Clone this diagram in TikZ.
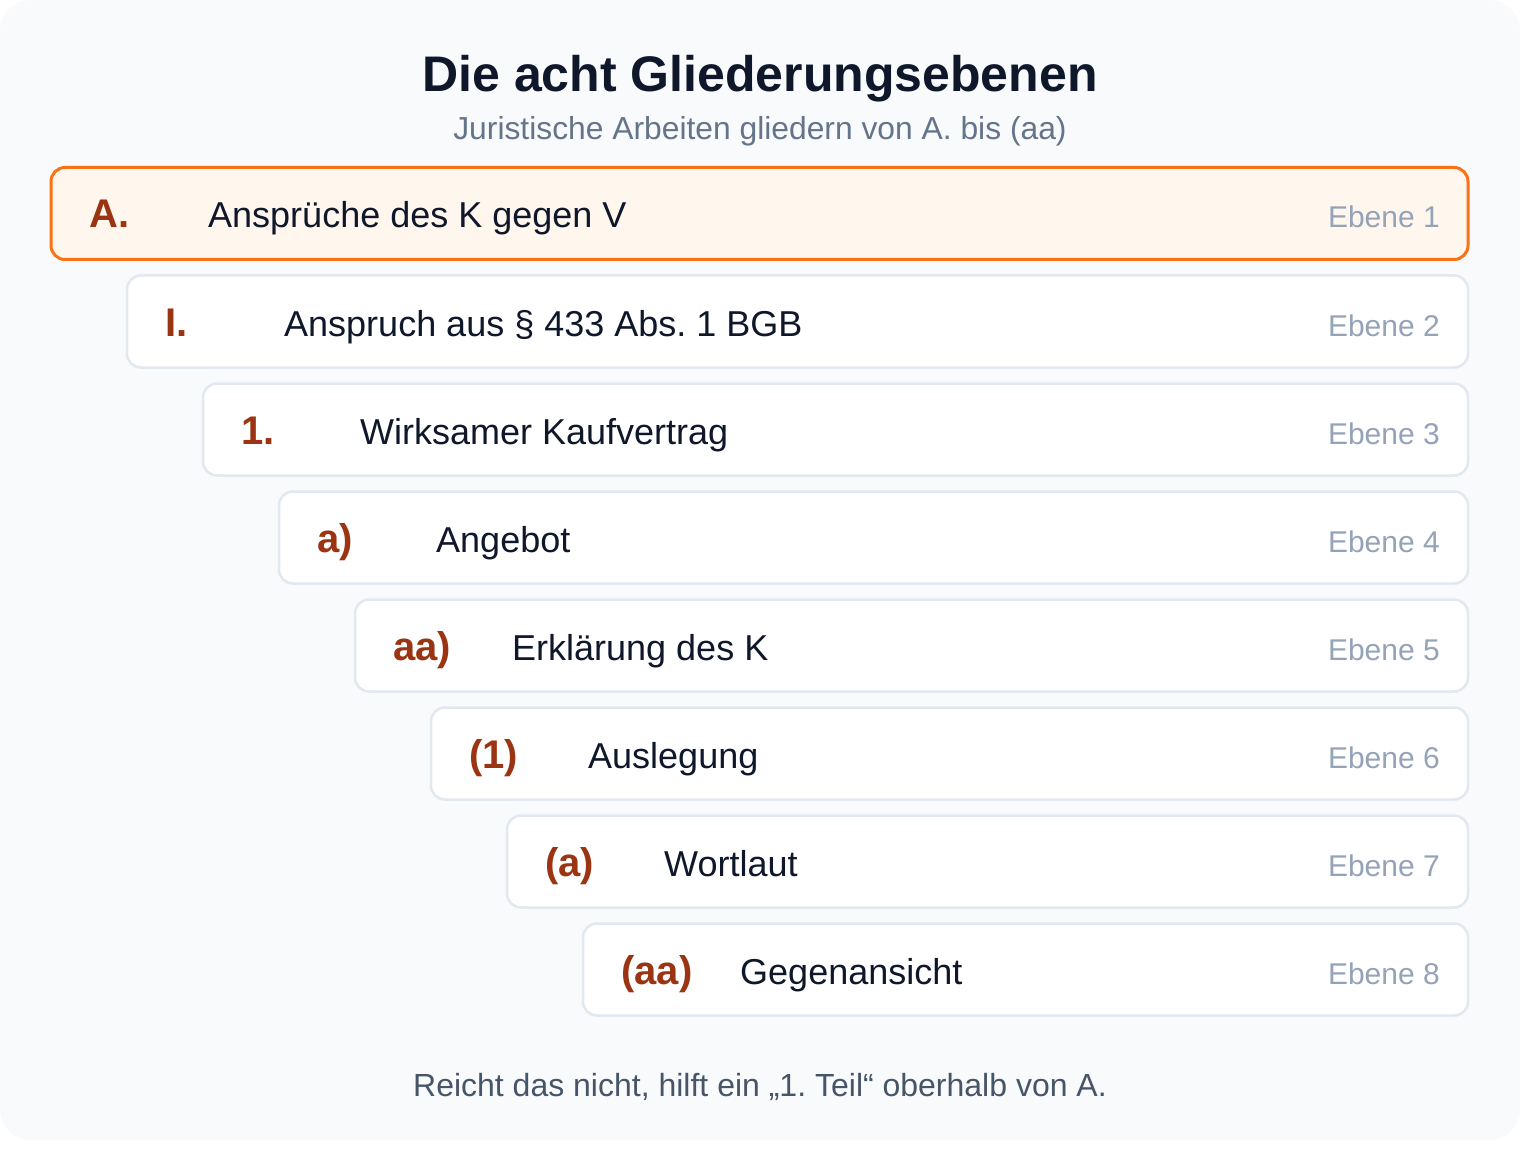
\documentclass[tikz,border=0pt]{standalone}
\usepackage{fontspec}
\setmainfont{Liberation Sans}
\usepackage{tikz}
\frenchspacing

\begin{document}
\begin{tikzpicture}[x=1pt,y=-1pt]

	\definecolor{bggray}{HTML}{F8FAFC}
	\definecolor{boxline}{HTML}{E2E8F0}
	\definecolor{orangeline}{HTML}{F97316}
	\definecolor{orangefill}{HTML}{FFF7ED}
	\definecolor{rust}{HTML}{9A3412}
	\definecolor{navy}{HTML}{0F172A}
	\definecolor{slate}{HTML}{64748B}
	\definecolor{darkslate}{HTML}{475569}
	\definecolor{lightslate}{HTML}{94A3B8}

	\useasboundingbox (0,0) rectangle (1520,1150);
	\fill[bggray, rounded corners=30pt] (0,0) rectangle (1520,1140);

	\node[navy, anchor=base, font=\fontsize{50}{60}\selectfont\bfseries] (title) at (760,92) {Die acht Gliederungsebenen};
	\node[slate, anchor=base, font=\fontsize{31.8}{38}\selectfont] (subtitle) at (760,140) {Juristische Arbeiten gliedern von A. bis (aa)};

	\tikzstyle{level} = [draw=boxline, line width=2.5pt, fill=white, rounded corners=14pt, minimum height=92pt, inner sep=0pt]
	\tikzstyle{toplevel} = [level, draw=orangeline, fill=orangefill, line width=3pt]
	\tikzset{lvlno/.style = {rust, anchor=base west, inner sep=0pt, font=\fontsize{40}{48}\selectfont\bfseries}}
	\tikzset{lvltext/.style = {navy, anchor=base west, inner sep=0pt, font=\fontsize{36}{43}\selectfont}}
	\tikzset{lvltag/.style = {lightslate, anchor=base east, inner sep=0pt, font=\fontsize{30}{36}\selectfont}}

	\node[toplevel, minimum width=1417pt] (e1) at (759.5,213.5) {};
	\node[level, minimum width=1341pt] (e2) at (797.5,321.5) {};
	\node[level, minimum width=1265pt] (e3) at (835.5,429.5) {};
	\node[level, minimum width=1189pt] (e4) at (873.5,537.5) {};
	\node[level, minimum width=1113pt] (e5) at (911.5,645.5) {};
	\node[level, minimum width=1037pt] (e6) at (949.5,753.5) {};
	\node[level, minimum width=961pt] (e7) at (987.5,861.5) {};
	\node[level, minimum width=885pt] (e8) at (1025.5,969.5) {};

	\node[lvlno] (no1) at (89,228) {A.};
	\node[lvlno] (no2) at (165,336) {I.};
	\node[lvlno] (no3) at (241,444) {1.};
	\node[lvlno] (no4) at (317,552) {a)};
	\node[lvlno] (no5) at (393,660) {aa)};
	\node[lvlno] (no6) at (469,768) {(1)};
	\node[lvlno] (no7) at (545,876) {(a)};
	\node[lvlno] (no8) at (621,984) {(aa)};

	\node[lvltext] (t1) at (208,228) {Ansprüche des K gegen V};
	\node[lvltext] (t2) at (284,336) {Anspruch aus § 433 Abs. 1 BGB};
	\node[lvltext] (t3) at (360,444) {Wirksamer Kaufvertrag};
	\node[lvltext] (t4) at (436,552) {Angebot};
	\node[lvltext] (t5) at (512,660) {Erklärung des K};
	\node[lvltext] (t6) at (588,768) {Auslegung};
	\node[lvltext] (t7) at (664,876) {Wortlaut};
	\node[lvltext] (t8) at (740,984) {Gegenansicht};

	\node[lvltag] (g1) at (1440,228) {Ebene 1};
	\node[lvltag] (g2) at (1440,336) {Ebene 2};
	\node[lvltag] (g3) at (1440,444) {Ebene 3};
	\node[lvltag] (g4) at (1440,552) {Ebene 4};
	\node[lvltag] (g5) at (1440,660) {Ebene 5};
	\node[lvltag] (g6) at (1440,768) {Ebene 6};
	\node[lvltag] (g7) at (1440,876) {Ebene 7};
	\node[lvltag] (g8) at (1440,984) {Ebene 8};

	\node[darkslate, anchor=base, font=\fontsize{32}{38}\selectfont] (note) at (760,1096) {Reicht das nicht, hilft ein „1. Teil“ oberhalb von A.};
\end{tikzpicture}
\end{document}
